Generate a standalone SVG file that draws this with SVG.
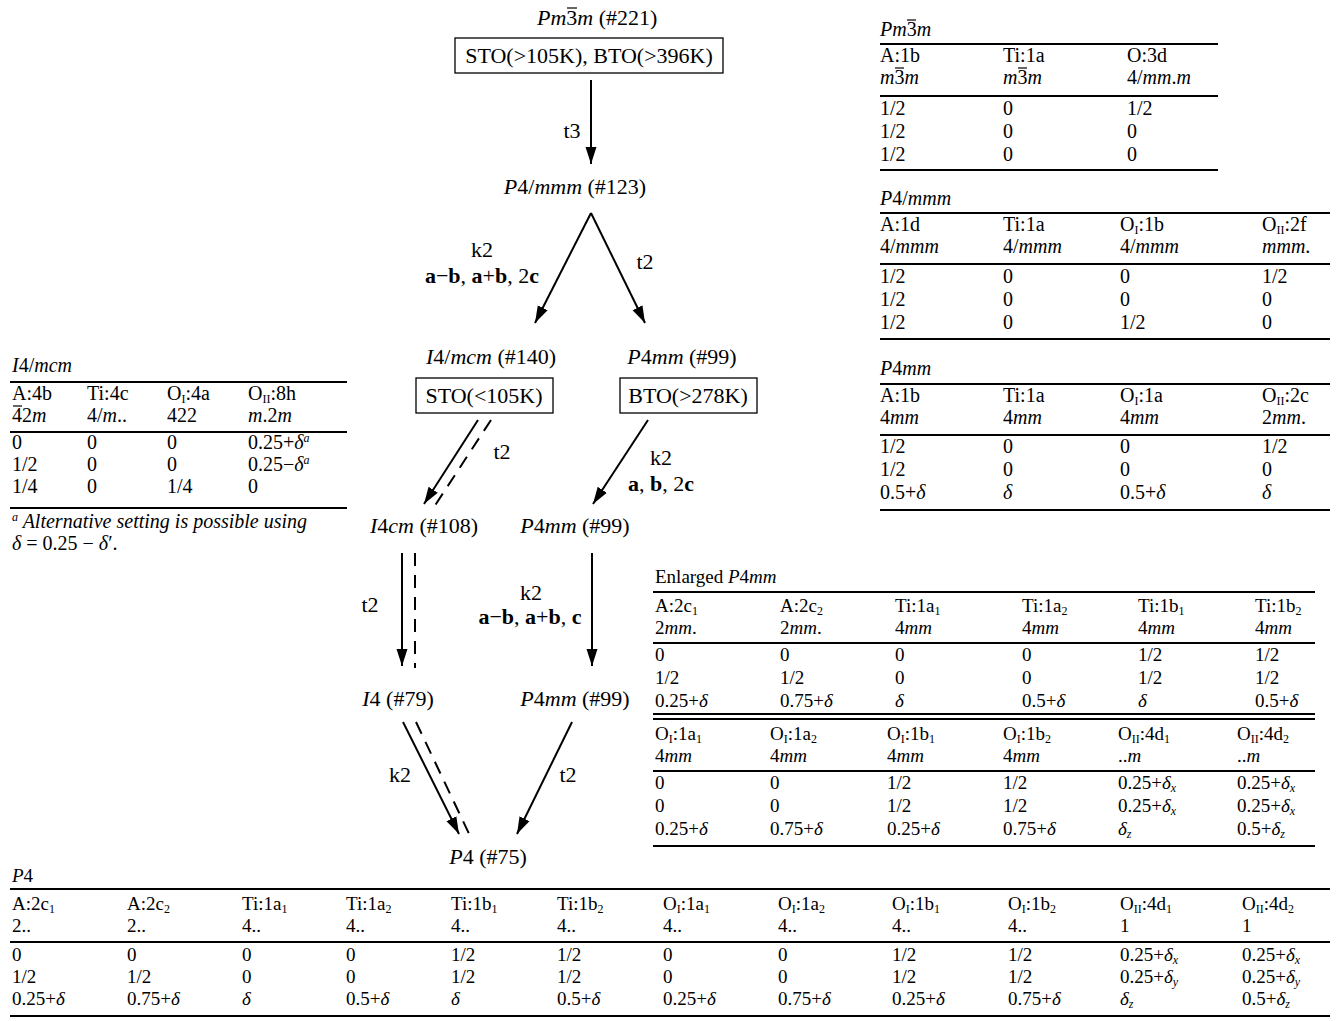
<svg xmlns="http://www.w3.org/2000/svg" width="1337" height="1021" viewBox="0 0 1337 1021">
<style>
text { font-family: "Liberation Serif", "Times New Roman", serif; fill: #000; }
.g { font-size: 22px; text-anchor: middle; }
.tb { font-size: 20px; }
.tc { font-size: 19px; }
.i { font-style: italic; }
.b { font-weight: bold; }
.s { font-size: 12px; }
.bar { stroke: #000; stroke-width: 1.2; }
.rule { stroke: #000; stroke-width: 2.2; }
.box { fill: #fff; stroke: #000; stroke-width: 1.3; }
.arr { stroke: #000; stroke-width: 2; fill: none; marker-end: url(#ah); }
.dash { stroke: #000; stroke-width: 2; fill: none; stroke-dasharray: 13 9; }
</style>
<defs>
<marker id="ah" markerUnits="userSpaceOnUse" markerWidth="19" markerHeight="12" refX="17" refY="6" orient="auto">
<path d="M0,0.5 L17,6 L0,11.5 z" fill="#000"/>
</marker>
</defs>

<!-- Graph nodes -->
<g id="n221">
<text x="537" y="25" style="font-size:22px"><tspan class="i">Pm</tspan>3<tspan class="i">m</tspan> (#221)</text>
<line class="bar" x1="567" y1="8" x2="577" y2="8"/>
<rect class="box" x="455" y="38" width="268" height="35"/>
<text class="g" x="589" y="63">STO(&gt;105K), BTO(&gt;396K)</text>
</g>
<g id="n123">
<text class="g" x="575" y="194"><tspan class="i">P</tspan>4/<tspan class="i">mmm</tspan> (#123)</text>
</g>
<g id="n140">
<text class="g" x="491" y="364"><tspan class="i">I</tspan>4/<tspan class="i">mcm</tspan> (#140)</text>
<rect class="box" x="416" y="378" width="137" height="35"/>
<text class="g" x="484" y="403">STO(&lt;105K)</text>
</g>
<g id="n99a">
<text class="g" x="682" y="364"><tspan class="i">P</tspan>4<tspan class="i">mm</tspan> (#99)</text>
<rect class="box" x="620" y="378" width="137" height="35"/>
<text class="g" x="688" y="403">BTO(&gt;278K)</text>
</g>
<g id="n108">
<text class="g" x="424" y="533"><tspan class="i">I</tspan>4<tspan class="i">cm</tspan> (#108)</text>
</g>
<g id="n99b">
<text class="g" x="575" y="533"><tspan class="i">P</tspan>4<tspan class="i">mm</tspan> (#99)</text>
</g>
<g id="n79">
<text class="g" x="398" y="706"><tspan class="i">I</tspan>4 (#79)</text>
</g>
<g id="n99c">
<text class="g" x="575" y="706"><tspan class="i">P</tspan>4<tspan class="i">mm</tspan> (#99)</text>
</g>
<g id="n75">
<text class="g" x="488" y="864"><tspan class="i">P</tspan>4 (#75)</text>
</g>

<!-- Connectors -->
<g id="connectors">
<line class="arr" x1="591" y1="80" x2="591" y2="164"/>
<text class="g" x="572" y="138">t3</text>
<line class="arr" x1="591" y1="213" x2="535" y2="323"/>
<text class="g" x="482" y="257">k2</text>
<text class="g" x="482" y="283"><tspan class="b">a</tspan>−<tspan class="b">b</tspan>, <tspan class="b">a</tspan>+<tspan class="b">b</tspan>, 2<tspan class="b">c</tspan></text>
<line class="arr" x1="591" y1="213" x2="645" y2="323"/>
<text class="g" x="645" y="269">t2</text>
<line class="arr" x1="478" y1="420" x2="424" y2="504"/>
<line class="dash" x1="491" y1="420" x2="434" y2="507"/>
<text class="g" x="502" y="459">t2</text>
<line class="arr" x1="648" y1="420" x2="593" y2="504"/>
<text class="g" x="661" y="465">k2</text>
<text class="g" x="661" y="491"><tspan class="b">a</tspan>, <tspan class="b">b</tspan>, 2<tspan class="b">c</tspan></text>
<line class="arr" x1="402" y1="553" x2="402" y2="666"/>
<line class="dash" x1="415" y1="553" x2="415" y2="668"/>
<text class="g" x="370" y="612">t2</text>
<line class="arr" x1="592" y1="553" x2="592" y2="666"/>
<text class="g" x="531" y="600">k2</text>
<text class="g" x="530" y="624"><tspan class="b">a</tspan>−<tspan class="b">b</tspan>, <tspan class="b">a</tspan>+<tspan class="b">b</tspan>, <tspan class="b">c</tspan></text>
<line class="arr" x1="403" y1="722" x2="459" y2="834"/>
<line class="dash" x1="416" y1="722" x2="472" y2="840"/>
<text class="g" x="400" y="782">k2</text>
<line class="arr" x1="572" y1="722" x2="517" y2="834"/>
<text class="g" x="568" y="782">t2</text>
</g>

<!-- Table Pm-3m -->
<g id="tab-pm3m" class="tb">
<text x="880" y="36"><tspan class="i">Pm</tspan>3<tspan class="i">m</tspan></text>
<line class="bar" x1="907" y1="20" x2="916" y2="20"/>
<line class="rule" x1="880" y1="44" x2="1218" y2="44"/>
<text x="880" y="62">A:1b</text><text x="1003" y="62">Ti:1a</text><text x="1127" y="62">O:3d</text>
<text x="880" y="84"><tspan class="i">m</tspan>3<tspan class="i">m</tspan></text><text x="1003" y="84"><tspan class="i">m</tspan>3<tspan class="i">m</tspan></text><text x="1127" y="84">4/<tspan class="i">mm</tspan>.<tspan class="i">m</tspan></text>
<line class="bar" x1="895" y1="68" x2="904" y2="68"/>
<line class="bar" x1="1018" y1="68" x2="1027" y2="68"/>
<line class="rule" x1="880" y1="96" x2="1218" y2="96"/>
<text x="880" y="115">1/2</text><text x="1003" y="115">0</text><text x="1127" y="115">1/2</text>
<text x="880" y="138">1/2</text><text x="1003" y="138">0</text><text x="1127" y="138">0</text>
<text x="880" y="161">1/2</text><text x="1003" y="161">0</text><text x="1127" y="161">0</text>
<line class="rule" x1="880" y1="170" x2="1218" y2="170"/>
</g>

<!-- Table P4/mmm -->
<g id="tab-p4mmm" class="tb">
<text x="880" y="205"><tspan class="i">P</tspan>4/<tspan class="i">mmm</tspan></text>
<line class="rule" x1="880" y1="213" x2="1330" y2="213"/>
<text x="880" y="231">A:1d</text><text x="1003" y="231">Ti:1a</text><text x="1120" y="231">O<tspan class="s" dy="3">I</tspan><tspan dy="-3">:1b</tspan></text><text x="1262" y="231">O<tspan class="s" dy="3">II</tspan><tspan dy="-3">:2f</tspan></text>
<text x="880" y="253">4/<tspan class="i">mmm</tspan></text><text x="1003" y="253">4/<tspan class="i">mmm</tspan></text><text x="1120" y="253">4/<tspan class="i">mmm</tspan></text><text x="1262" y="253"><tspan class="i">mmm</tspan>.</text>
<line class="rule" x1="880" y1="264" x2="1330" y2="264"/>
<text x="880" y="283">1/2</text><text x="1003" y="283">0</text><text x="1120" y="283">0</text><text x="1262" y="283">1/2</text>
<text x="880" y="306">1/2</text><text x="1003" y="306">0</text><text x="1120" y="306">0</text><text x="1262" y="306">0</text>
<text x="880" y="329">1/2</text><text x="1003" y="329">0</text><text x="1120" y="329">1/2</text><text x="1262" y="329">0</text>
<line class="rule" x1="880" y1="339" x2="1330" y2="339"/>
</g>

<!-- Table P4mm -->
<g id="tab-p4mm" class="tb">
<text x="880" y="375"><tspan class="i">P</tspan>4<tspan class="i">mm</tspan></text>
<line class="rule" x1="880" y1="384" x2="1330" y2="384"/>
<text x="880" y="402">A:1b</text><text x="1003" y="402">Ti:1a</text><text x="1120" y="402">O<tspan class="s" dy="3">I</tspan><tspan dy="-3">:1a</tspan></text><text x="1262" y="402">O<tspan class="s" dy="3">II</tspan><tspan dy="-3">:2c</tspan></text>
<text x="880" y="424">4<tspan class="i">mm</tspan></text><text x="1003" y="424">4<tspan class="i">mm</tspan></text><text x="1120" y="424">4<tspan class="i">mm</tspan></text><text x="1262" y="424">2<tspan class="i">mm</tspan>.</text>
<line class="rule" x1="880" y1="435" x2="1330" y2="435"/>
<text x="880" y="453">1/2</text><text x="1003" y="453">0</text><text x="1120" y="453">0</text><text x="1262" y="453">1/2</text>
<text x="880" y="476">1/2</text><text x="1003" y="476">0</text><text x="1120" y="476">0</text><text x="1262" y="476">0</text>
<text x="880" y="499">0.5+<tspan class="i">δ</tspan></text><text x="1003" y="499" class="i">δ</text><text x="1120" y="499">0.5+<tspan class="i">δ</tspan></text><text x="1262" y="499" class="i">δ</text>
<line class="rule" x1="880" y1="510" x2="1330" y2="510"/>
</g>

<!-- Table I4/mcm -->
<g id="tab-i4mcm" class="tb">
<text x="12" y="372"><tspan class="i">I</tspan>4/<tspan class="i">mcm</tspan></text>
<line class="rule" x1="10" y1="382" x2="347" y2="382"/>
<text x="12" y="400">A:4b</text><text x="87" y="400">Ti:4c</text><text x="167" y="400">O<tspan class="s" dy="3">I</tspan><tspan dy="-3">:4a</tspan></text><text x="248" y="400">O<tspan class="s" dy="3">II</tspan><tspan dy="-3">:8h</tspan></text>
<text x="12" y="422">42<tspan class="i">m</tspan></text><text x="87" y="422">4/<tspan class="i">m</tspan>..</text><text x="167" y="422">422</text><text x="248" y="422"><tspan class="i">m</tspan>.2<tspan class="i">m</tspan></text>
<line class="bar" x1="13" y1="406" x2="22" y2="406"/>
<line class="rule" x1="10" y1="432" x2="347" y2="432"/>
<text x="12" y="449">0</text><text x="87" y="449">0</text><text x="167" y="449">0</text><text x="248" y="449">0.25+<tspan class="i">δ</tspan><tspan class="s i" dy="-7">a</tspan></text>
<text x="12" y="471">1/2</text><text x="87" y="471">0</text><text x="167" y="471">0</text><text x="248" y="471">0.25−<tspan class="i">δ</tspan><tspan class="s i" dy="-7">a</tspan></text>
<text x="12" y="493">1/4</text><text x="87" y="493">0</text><text x="167" y="493">1/4</text><text x="248" y="493">0</text>
<line class="rule" x1="10" y1="508" x2="347" y2="508"/>
<text x="12" y="528"><tspan class="s i" dy="-7">a</tspan><tspan class="i" dy="7"> Alternative setting is possible using</tspan></text>
<text x="12" y="550"><tspan class="i">δ</tspan> = 0.25 − <tspan class="i">δ</tspan>′.</text>
</g>

<!-- Enlarged P4mm table -->
<g id="tab-enlarged" class="tc">
<text x="655" y="583">Enlarged <tspan class="i">P</tspan>4<tspan class="i">mm</tspan></text>
<line class="rule" x1="653" y1="592" x2="1315" y2="592"/>
<text x="655" y="612">A:2c<tspan class="s" dy="3">1</tspan></text><text x="780" y="612">A:2c<tspan class="s" dy="3">2</tspan></text><text x="895" y="612">Ti:1a<tspan class="s" dy="3">1</tspan></text><text x="1022" y="612">Ti:1a<tspan class="s" dy="3">2</tspan></text><text x="1138" y="612">Ti:1b<tspan class="s" dy="3">1</tspan></text><text x="1255" y="612">Ti:1b<tspan class="s" dy="3">2</tspan></text>
<text x="655" y="634">2<tspan class="i">mm</tspan>.</text><text x="780" y="634">2<tspan class="i">mm</tspan>.</text><text x="895" y="634">4<tspan class="i">mm</tspan></text><text x="1022" y="634">4<tspan class="i">mm</tspan></text><text x="1138" y="634">4<tspan class="i">mm</tspan></text><text x="1255" y="634">4<tspan class="i">mm</tspan></text>
<line class="rule" x1="653" y1="643" x2="1315" y2="643"/>
<text x="655" y="661">0</text><text x="780" y="661">0</text><text x="895" y="661">0</text><text x="1022" y="661">0</text><text x="1138" y="661">1/2</text><text x="1255" y="661">1/2</text>
<text x="655" y="684">1/2</text><text x="780" y="684">1/2</text><text x="895" y="684">0</text><text x="1022" y="684">0</text><text x="1138" y="684">1/2</text><text x="1255" y="684">1/2</text>
<text x="655" y="707">0.25+<tspan class="i">δ</tspan></text><text x="780" y="707">0.75+<tspan class="i">δ</tspan></text><text x="895" y="707" class="i">δ</text><text x="1022" y="707">0.5+<tspan class="i">δ</tspan></text><text x="1138" y="707" class="i">δ</text><text x="1255" y="707">0.5+<tspan class="i">δ</tspan></text>
<line class="rule" x1="653" y1="714" x2="1315" y2="714"/>
<line class="rule" x1="653" y1="719" x2="1315" y2="719"/>
<text x="655" y="740">O<tspan class="s" dy="3">I</tspan><tspan dy="-3">:1a</tspan><tspan class="s" dy="3">1</tspan></text><text x="770" y="740">O<tspan class="s" dy="3">I</tspan><tspan dy="-3">:1a</tspan><tspan class="s" dy="3">2</tspan></text><text x="887" y="740">O<tspan class="s" dy="3">I</tspan><tspan dy="-3">:1b</tspan><tspan class="s" dy="3">1</tspan></text><text x="1003" y="740">O<tspan class="s" dy="3">I</tspan><tspan dy="-3">:1b</tspan><tspan class="s" dy="3">2</tspan></text><text x="1118" y="740">O<tspan class="s" dy="3">II</tspan><tspan dy="-3">:4d</tspan><tspan class="s" dy="3">1</tspan></text><text x="1237" y="740">O<tspan class="s" dy="3">II</tspan><tspan dy="-3">:4d</tspan><tspan class="s" dy="3">2</tspan></text>
<text x="655" y="762">4<tspan class="i">mm</tspan></text><text x="770" y="762">4<tspan class="i">mm</tspan></text><text x="887" y="762">4<tspan class="i">mm</tspan></text><text x="1003" y="762">4<tspan class="i">mm</tspan></text><text x="1118" y="762">..<tspan class="i">m</tspan></text><text x="1237" y="762">..<tspan class="i">m</tspan></text>
<line class="rule" x1="653" y1="771" x2="1315" y2="771"/>
<text x="655" y="789">0</text><text x="770" y="789">0</text><text x="887" y="789">1/2</text><text x="1003" y="789">1/2</text><text x="1118" y="789">0.25+<tspan class="i">δ</tspan><tspan class="s i" dy="3">x</tspan></text><text x="1237" y="789">0.25+<tspan class="i">δ</tspan><tspan class="s i" dy="3">x</tspan></text>
<text x="655" y="812">0</text><text x="770" y="812">0</text><text x="887" y="812">1/2</text><text x="1003" y="812">1/2</text><text x="1118" y="812">0.25+<tspan class="i">δ</tspan><tspan class="s i" dy="3">x</tspan></text><text x="1237" y="812">0.25+<tspan class="i">δ</tspan><tspan class="s i" dy="3">x</tspan></text>
<text x="655" y="835">0.25+<tspan class="i">δ</tspan></text><text x="770" y="835">0.75+<tspan class="i">δ</tspan></text><text x="887" y="835">0.25+<tspan class="i">δ</tspan></text><text x="1003" y="835">0.75+<tspan class="i">δ</tspan></text><text x="1118" y="835"><tspan class="i">δ</tspan><tspan class="s i" dy="3">z</tspan></text><text x="1237" y="835">0.5+<tspan class="i">δ</tspan><tspan class="s i" dy="3">z</tspan></text>
<line class="rule" x1="653" y1="846" x2="1315" y2="846"/>
</g>

<!-- P4 table -->
<g id="tab-p4" class="tc">
<text x="12" y="882"><tspan class="i">P</tspan>4</text>
<line class="rule" x1="10" y1="889" x2="1330" y2="889"/>
<text x="12" y="910">A:2c<tspan class="s" dy="3">1</tspan></text><text x="127" y="910">A:2c<tspan class="s" dy="3">2</tspan></text><text x="242" y="910">Ti:1a<tspan class="s" dy="3">1</tspan></text><text x="346" y="910">Ti:1a<tspan class="s" dy="3">2</tspan></text><text x="451" y="910">Ti:1b<tspan class="s" dy="3">1</tspan></text><text x="557" y="910">Ti:1b<tspan class="s" dy="3">2</tspan></text><text x="663" y="910">O<tspan class="s" dy="3">I</tspan><tspan dy="-3">:1a</tspan><tspan class="s" dy="3">1</tspan></text><text x="778" y="910">O<tspan class="s" dy="3">I</tspan><tspan dy="-3">:1a</tspan><tspan class="s" dy="3">2</tspan></text><text x="892" y="910">O<tspan class="s" dy="3">I</tspan><tspan dy="-3">:1b</tspan><tspan class="s" dy="3">1</tspan></text><text x="1008" y="910">O<tspan class="s" dy="3">I</tspan><tspan dy="-3">:1b</tspan><tspan class="s" dy="3">2</tspan></text><text x="1120" y="910">O<tspan class="s" dy="3">II</tspan><tspan dy="-3">:4d</tspan><tspan class="s" dy="3">1</tspan></text><text x="1242" y="910">O<tspan class="s" dy="3">II</tspan><tspan dy="-3">:4d</tspan><tspan class="s" dy="3">2</tspan></text>
<text x="12" y="932">2..</text><text x="127" y="932">2..</text><text x="242" y="932">4..</text><text x="346" y="932">4..</text><text x="451" y="932">4..</text><text x="557" y="932">4..</text><text x="663" y="932">4..</text><text x="778" y="932">4..</text><text x="892" y="932">4..</text><text x="1008" y="932">4..</text><text x="1120" y="932">1</text><text x="1242" y="932">1</text>
<line class="rule" x1="10" y1="942" x2="1330" y2="942"/>
<text x="12" y="961">0</text><text x="127" y="961">0</text><text x="242" y="961">0</text><text x="346" y="961">0</text><text x="451" y="961">1/2</text><text x="557" y="961">1/2</text><text x="663" y="961">0</text><text x="778" y="961">0</text><text x="892" y="961">1/2</text><text x="1008" y="961">1/2</text><text x="1120" y="961">0.25+<tspan class="i">δ</tspan><tspan class="s i" dy="3">x</tspan></text><text x="1242" y="961">0.25+<tspan class="i">δ</tspan><tspan class="s i" dy="3">x</tspan></text>
<text x="12" y="983">1/2</text><text x="127" y="983">1/2</text><text x="242" y="983">0</text><text x="346" y="983">0</text><text x="451" y="983">1/2</text><text x="557" y="983">1/2</text><text x="663" y="983">0</text><text x="778" y="983">0</text><text x="892" y="983">1/2</text><text x="1008" y="983">1/2</text><text x="1120" y="983">0.25+<tspan class="i">δ</tspan><tspan class="s i" dy="3">y</tspan></text><text x="1242" y="983">0.25+<tspan class="i">δ</tspan><tspan class="s i" dy="3">y</tspan></text>
<text x="12" y="1005">0.25+<tspan class="i">δ</tspan></text><text x="127" y="1005">0.75+<tspan class="i">δ</tspan></text><text x="242" y="1005" class="i">δ</text><text x="346" y="1005">0.5+<tspan class="i">δ</tspan></text><text x="451" y="1005" class="i">δ</text><text x="557" y="1005">0.5+<tspan class="i">δ</tspan></text><text x="663" y="1005">0.25+<tspan class="i">δ</tspan></text><text x="778" y="1005">0.75+<tspan class="i">δ</tspan></text><text x="892" y="1005">0.25+<tspan class="i">δ</tspan></text><text x="1008" y="1005">0.75+<tspan class="i">δ</tspan></text><text x="1120" y="1005"><tspan class="i">δ</tspan><tspan class="s i" dy="3">z</tspan></text><text x="1242" y="1005">0.5+<tspan class="i">δ</tspan><tspan class="s i" dy="3">z</tspan></text>
<line class="rule" x1="10" y1="1016" x2="1330" y2="1016"/>
</g>
</svg>
